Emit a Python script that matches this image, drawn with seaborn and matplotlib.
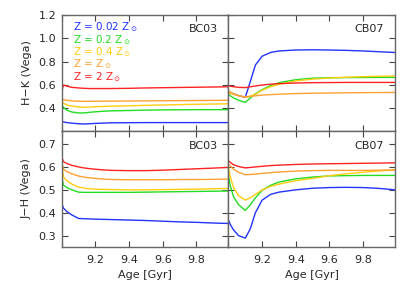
import matplotlib
matplotlib.use("Agg")
import matplotlib.pyplot as plt
import seaborn as sns

# log age grid shared by all curves
age = [9.00, 9.01, 9.03, 9.06, 9.10, 9.13, 9.16, 9.20, 9.25, 9.30,
       9.40, 9.50, 9.60, 9.70, 9.80, 9.90, 9.99]

metallicities = ["Z = 0.02 Z$_\\odot$", "Z = 0.2 Z$_\\odot$", "Z = 0.4 Z$_\\odot$",
                 "Z = Z$_\\odot$", "Z = 2 Z$_\\odot$"]
colors = ["#2233ff", "#22dd22", "#ffcc11", "#ffa030", "#ff2222"]

# H-K, BC03
hk_bc03_blue = [0.29, 0.285, 0.28, 0.275, 0.27, 0.268, 0.27, 0.273, 0.276, 0.278,
                0.279, 0.28, 0.28, 0.28, 0.28, 0.28, 0.28]
hk_bc03_green = [0.43, 0.41, 0.385, 0.37, 0.362, 0.362, 0.367, 0.372, 0.377, 0.38,
                 0.383, 0.386, 0.388, 0.389, 0.39, 0.39, 0.39]
hk_bc03_yellow = [0.46, 0.445, 0.43, 0.42, 0.413, 0.41, 0.412, 0.415, 0.418, 0.42,
                  0.423, 0.427, 0.43, 0.433, 0.436, 0.438, 0.44]
hk_bc03_orange = [0.48, 0.475, 0.47, 0.465, 0.462, 0.461, 0.461, 0.462, 0.462, 0.463,
                  0.464, 0.465, 0.466, 0.467, 0.468, 0.469, 0.47]
hk_bc03_red = [0.55, 0.60, 0.59, 0.58, 0.575, 0.572, 0.57, 0.57, 0.57, 0.57,
               0.572, 0.575, 0.577, 0.579, 0.581, 0.583, 0.585]

# H-K, CB07
hk_cb07_blue = [0.55, 0.54, 0.525, 0.51, 0.495, 0.63, 0.77, 0.845, 0.877, 0.89,
                0.898, 0.9, 0.898, 0.895, 0.89, 0.883, 0.877]
hk_cb07_green = [0.523, 0.51, 0.49, 0.47, 0.452, 0.49, 0.525, 0.56, 0.595, 0.62,
                 0.645, 0.658, 0.662, 0.663, 0.664, 0.665, 0.665]
hk_cb07_yellow = [0.55, 0.54, 0.525, 0.51, 0.497, 0.505, 0.52, 0.555, 0.585, 0.605,
                  0.635, 0.65, 0.66, 0.666, 0.671, 0.675, 0.677]
hk_cb07_orange = [0.537, 0.53, 0.52, 0.508, 0.497, 0.503, 0.508, 0.514, 0.518, 0.522,
                  0.527, 0.53, 0.532, 0.534, 0.535, 0.536, 0.537]
hk_cb07_red = [0.595, 0.59, 0.585, 0.58, 0.578, 0.585, 0.592, 0.6, 0.607, 0.612,
               0.617, 0.62, 0.621, 0.622, 0.622, 0.622, 0.622]

# J-H, BC03
jh_bc03_blue = [0.44, 0.42, 0.405, 0.39, 0.375, 0.374, 0.373, 0.372, 0.371, 0.37,
                0.368, 0.366, 0.363, 0.36, 0.358, 0.355, 0.353]
jh_bc03_green = [0.556, 0.52, 0.51, 0.5, 0.49, 0.489, 0.489, 0.489, 0.489, 0.489,
                 0.489, 0.49, 0.491, 0.492, 0.493, 0.494, 0.495]
jh_bc03_yellow = [0.606, 0.556, 0.54, 0.525, 0.512, 0.508, 0.505, 0.503, 0.502, 0.501,
                  0.5, 0.5, 0.501, 0.502, 0.503, 0.505, 0.506]
jh_bc03_orange = [0.62, 0.59, 0.58, 0.57, 0.56, 0.556, 0.553, 0.55, 0.547, 0.545,
                  0.544, 0.544, 0.544, 0.545, 0.545, 0.546, 0.547]
jh_bc03_red = [0.642, 0.623, 0.615, 0.607, 0.6, 0.596, 0.593, 0.59, 0.587, 0.585,
               0.584, 0.584, 0.586, 0.589, 0.592, 0.595, 0.598]

# J-H, CB07
jh_cb07_blue = [0.368, 0.35, 0.325, 0.3, 0.289, 0.33, 0.4, 0.455, 0.48, 0.49,
                0.5, 0.507, 0.51, 0.511, 0.51, 0.506, 0.5]
jh_cb07_green = [0.563, 0.52, 0.47, 0.435, 0.41, 0.435, 0.465, 0.498, 0.52, 0.534,
                 0.548, 0.556, 0.561, 0.562, 0.563, 0.563, 0.563]
jh_cb07_yellow = [0.6, 0.56, 0.51, 0.475, 0.455, 0.465, 0.48, 0.5, 0.515, 0.525,
                  0.54, 0.55, 0.562, 0.57, 0.577, 0.583, 0.587]
jh_cb07_orange = [0.613, 0.605, 0.59, 0.577, 0.566, 0.567, 0.569, 0.572, 0.575, 0.578,
                  0.582, 0.584, 0.585, 0.585, 0.585, 0.586, 0.587]
jh_cb07_red = [0.628, 0.62, 0.61, 0.602, 0.596, 0.598, 0.6, 0.603, 0.606, 0.608,
               0.611, 0.613, 0.614, 0.615, 0.616, 0.617, 0.618]

panels = [
    [hk_bc03_blue, hk_bc03_green, hk_bc03_yellow, hk_bc03_orange, hk_bc03_red],
    [hk_cb07_blue, hk_cb07_green, hk_cb07_yellow, hk_cb07_orange, hk_cb07_red],
    [jh_bc03_blue, jh_bc03_green, jh_bc03_yellow, jh_bc03_orange, jh_bc03_red],
    [jh_cb07_blue, jh_cb07_green, jh_cb07_yellow, jh_cb07_orange, jh_cb07_red],
]
models = ["BC03", "CB07", "BC03", "CB07"]

sns.set_style("ticks")
plt.rcParams['font.family'] = ['DejaVu Sans']
plt.rcParams['mathtext.fontset'] = 'dejavusans'

fig, axes = plt.subplots(2, 2, figsize=(4.15, 2.91), dpi=100)
fig.subplots_adjust(left=0.149, right=0.952, top=0.950, bottom=0.151,
                    hspace=0, wspace=0)

for ax, series, model in zip(axes.flat, panels, models):
    for vals, c in zip(series, colors):
        sns.lineplot(x=age, y=vals, ax=ax, color=c, linewidth=1.0, legend=False)
    ax.set_xlim(9.0, 9.99)
    ax.set_xticks([9.0, 9.2, 9.4, 9.6, 9.8])
    ax.tick_params(direction='in', top=True, right=True, length=4, width=0.8,
                   labelsize=8, color='#444444')
    ax.tick_params(axis='x', pad=6)
    ax.tick_params(axis='y', pad=4)
    for sp in ax.spines.values():
        sp.set_color('#666666')
        sp.set_linewidth(1.0)
    ax.text(0.935, 0.915, model, transform=ax.transAxes, ha='right', va='top',
            fontsize=8)
    ax.set_xlabel("")
    ax.set_ylabel("")

for ax in axes[0]:
    ax.set_ylim(0.21, 1.2)
    ax.set_yticks([0.4, 0.6, 0.8, 1.0, 1.2])
    ax.set_xticklabels([])
for ax in axes[1]:
    ax.set_ylim(0.25, 0.758)
    ax.set_yticks([0.3, 0.4, 0.5, 0.6, 0.7])
    ax.set_xticklabels(["", "9.2", "9.4", "9.6", "9.8"])
    ax.set_xlabel("Age [Gyr]", fontsize=8, labelpad=3)
for ax in axes[:, 1]:
    ax.set_yticklabels([])

axes[0, 0].set_ylabel("H\u2212K (Vega)", fontsize=8, labelpad=5)
axes[1, 0].set_ylabel("J\u2212H (Vega)", fontsize=8, labelpad=5)
axes[0, 0].set_yticklabels(["0.4", "0.6", "0.8", "1.0", "1.2"])
axes[1, 0].set_yticklabels(["0.3", "0.4", "0.5", "0.6", "0.7"])

# coloured metallicity key
for i, (lab, c) in enumerate(zip(metallicities, colors)):
    axes[0, 0].text(0.065, 0.89 - i * 0.106, lab, transform=axes[0, 0].transAxes,
                    color=c, fontsize=7.5, ha='left', va='center')

fig.savefig("out.png", dpi=100)
